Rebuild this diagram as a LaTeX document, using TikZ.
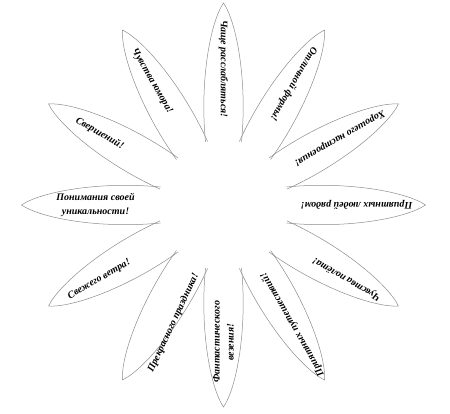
\documentclass[tikz,border=0pt]{standalone}
\usepackage{fontspec}
\setmainfont{Liberation Serif}
\begin{document}
\begin{tikzpicture}[x=1pt,y=1pt,
  petal/.style={draw=black!45, line width=0.5pt},
  wish/.style={font=\fontsize{10}{14}\selectfont\bfseries\itshape, align=center, inner sep=0pt}]
\useasboundingbox (0,0) rectangle (450,414);
\coordinate (c) at (223.5,209);
\foreach \a in {0,30,...,330} {
  \begin{scope}[shift={(c)}, rotate=\a]
  \draw[petal] (63,18) .. controls (125,24) and (183,13) .. (202,0) .. controls (183,-13) and (125,-24) .. (63,-18);
  \end{scope}
}
\node[wish, rotate=270] (w1) at ([shift={(90:136)}]c) {Чаще расслабляться!};
\node[wish, rotate=240] (w2) at ([shift={(60:140)}]c) {Отличной формы!};
\node[wish, rotate=210] (w3) at ([shift={(30:134)}]c) {Хорошего настроения!};
\node[wish, rotate=180] (w4) at ([shift={(0:133)}]c) {Приятных людей рядом!};
\node[wish, rotate=150] (w5) at ([shift={(-31:144)}]c) {Чувства полёта!};
\node[wish, rotate=120] (w6) at ([shift={(-60:138)}]c) {Приятных путешествий!};
\node[wish, rotate=90] (w7) at ([shift={(-90:137)}]c) {Фантастического\\везения!};
\node[wish, rotate=65] (w8) at ([shift={(-113:128)}]c) {Прекрасного праздника!};
\node[wish, rotate=30] (w9) at ([shift={(-149:145)}]c) {Свежего ветра!};
\node[wish, rotate=0] (w10) at ([shift={(180:128)}]c) {Понимания своей\\уникальности!};
\node[wish, rotate=-30] (w11) at ([shift={(150:143)}]c) {Свершений!};
\node[wish, rotate=-60] (w12) at ([shift={(120:143)}]c) {Чувства юмора!};
\end{tikzpicture}
\end{document}
